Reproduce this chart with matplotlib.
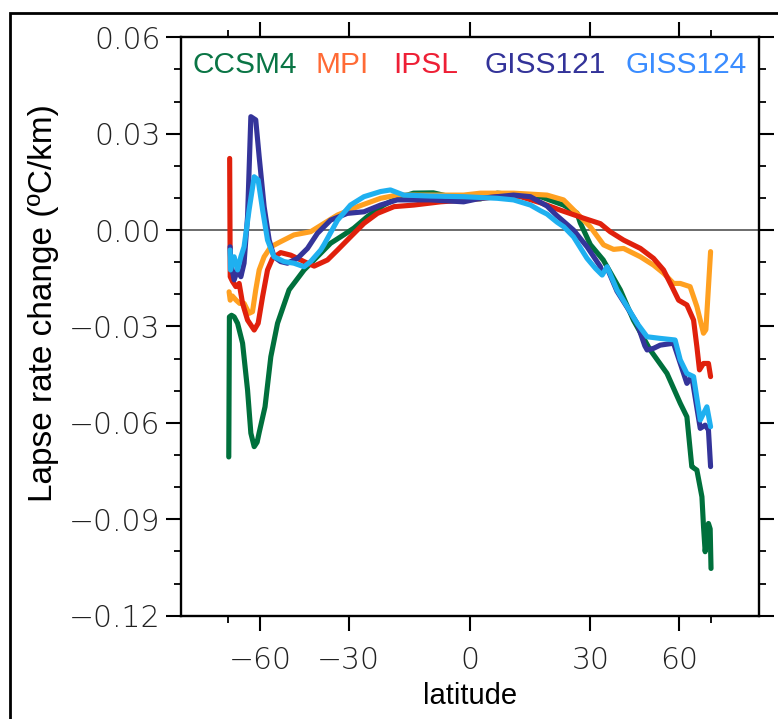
import numpy as np
import matplotlib
matplotlib.use("Agg")
import matplotlib.pyplot as plt
from matplotlib.patches import Rectangle

# modelos y colores
modelos = ["CCSM4", "MPI", "IPSL", "GISS121", "GISS124"]
colores_linea = ["#00703c", "#ffa020", "#e0200c", "#34349a", "#1fb0f0"]
colores_texto = ["#0a7545", "#ff6a35", "#ee1f35", "#333399", "#3a8cff"]

# latitud (grados) y cambio del gradiente (C/km)
lat_ccsm4 = [-85, -83.5, -80, -76.9, -73.7, -69.9, -66.7, -64.8, -63.0, -61.5, -60.5, -57.8,
             -55.3, -52.6, -48.3, -43.2, -38.0, -35.1, -31.4, -28.6, -25.0, -20.8, -17.4,
             -13.4, -8.6, -5.3, 2.6, 6.6, 10.5, 17.1, 22.9, 26.4, 27.3, 30, 33.6, 38.6, 42.7,
             48.4, 54.8, 60.7, 64.1, 66.9, 68, 70.2, 74.1, 75.5, 77.2, 81.4, 84.8, 88]
lr_ccsm4 = [-0.0706, -0.027, -0.0265, -0.027, -0.029, -0.0352, -0.0498, -0.0632, -0.0674,
            -0.066, -0.063, -0.055, -0.0394, -0.029, -0.0186, -0.0124, -0.0072, -0.0041,
            -0.0015, 0.0006, 0.0042, 0.0078, 0.0099, 0.0115, 0.0116, 0.0106, 0.0097, 0.0115,
            0.011, 0.0104, 0.0078, 0.0053, 0.0022, -0.0045, -0.0093, -0.0186, -0.028, -0.0373,
            -0.0446, -0.0539, -0.0581, -0.0736, -0.074, -0.0747, -0.083, -0.092, -0.1001,
            -0.0913, -0.093, -0.1053]

lat_mpi = [-84.2, -82, -79, -75, -72, -68.9, -65.8, -63.9, -62.2, -60.5, -58.2, -55.3, -51.4,
           -46.6, -41.1, -37.0, -33.1, -27.6, -21.6, -17.4, -9.3, -1.4, 2.6, 10.5, 18.7, 22.9,
           25.5, 30, 33.7, 36.6, 39.6, 45, 49.6, 53.4, 57.6, 60.7, 65.9, 70.2, 75.5, 78, 86]
lr_mpi = [-0.0192, -0.0218, -0.0205, -0.0218, -0.0228, -0.0228, -0.0259, -0.0254, -0.0186,
          -0.0124, -0.0083, -0.0052, -0.0036, -0.0015, -0.0005, 0.0021, 0.0047, 0.0073, 0.0099,
          0.0109, 0.0109, 0.0109, 0.0115, 0.0115, 0.0109, 0.0094, 0.0063, 0.001, -0.0046,
          -0.006, -0.0057, -0.0083, -0.0109, -0.0134, -0.0166, -0.0166, -0.0176, -0.0238,
          -0.0321, -0.031, -0.0067]

lat_ipsl = [-83.0, -82.0, -78.7, -75.2, -72.4, -69.9, -66.7, -63.0, -61.0, -58.9, -56.7, -54.6,
            -51.4, -47.7, -43.2, -40.0, -36.0, -33.1, -29.5, -25.9, -22.4, -18.2, -13.3, -6.9,
            -0.5, 6.6, 12.2, 17.1, 22.1, 25.5, 28.2, 32.8, 35.6, 39.6, 45, 49.6, 53.4, 56.9,
            59.9, 64.1, 68, 70.2, 72.1, 75.5, 81.4, 86]
lr_ipsl = [0.0223, -0.0145, -0.016, -0.0176, -0.0166, -0.0228, -0.028, -0.0311, -0.029,
           -0.0207, -0.0124, -0.0088, -0.007, -0.0078, -0.0098, -0.0112, -0.0093, -0.0062,
           -0.0021, 0.0021, 0.0052, 0.0073, 0.0078, 0.0088, 0.0094, 0.0104, 0.0104, 0.0085,
           0.0062, 0.0048, 0.0037, 0.002, -0.0005, -0.0031, -0.0057, -0.0088, -0.0124, -0.0176,
           -0.0218, -0.0233, -0.028, -0.0363, -0.0435, -0.0415, -0.0415, -0.0456]

lat_giss121 = [-82.2, -81, -76.9, -73.7, -71.1, -68.9, -66.7, -64.8, -62.2, -60.5, -58.2, -56.0,
               -54.0, -51.4, -48.9, -45.4, -42.1, -39.0, -35.1, -30.4, -25.9, -21.6, -17.4,
               -9.3, -1.4, 2.6, 10.5, 14.6, 18.7, 21.2, 25.5, 29.1, 32.8, 33.3, 34.7, 37.6,
               40.7, 43.9, 46.5, 47.3, 49.6, 52.1, 57.6, 64.1, 66.9, 72.7, 77.2, 81.4, 86]
lr_giss121 = [-0.0052, -0.0103, -0.0155, -0.0124, -0.0145, -0.0103, 0.0042, 0.0353, 0.0343,
              0.0228, 0.0073, -0.0031, -0.0083, -0.0098, -0.0103, -0.0088, -0.0057, -0.001,
              0.0031, 0.0052, 0.0057, 0.0078, 0.0094, 0.0094, 0.0088, 0.0099, 0.0109, 0.0104,
              0.0075, 0.0045, 0.0, -0.0052, -0.0114, -0.0135, -0.0118, -0.019, -0.024, -0.029,
              -0.036, -0.0373, -0.0368, -0.0358, -0.0352, -0.0477, -0.0456, -0.0617, -0.0607,
              -0.0622, -0.0736]

lat_giss124 = [-82.2, -81.5, -76.9, -73.7, -71.1, -68.9, -65.8, -63.0, -61.0, -58.9, -56.7,
               -54.0, -50.1, -46.6, -43.2, -41.1, -38.0, -37.0, -33.1, -29.5, -25.9, -21.6,
               -19.1, -15.8, -9.3, -1.4, 6.6, 10.5, 14.6, 17.1, 18.7, 21.2, 23, 25.5, 29.1,
               31.4, 33.3, 34.7, 37.6, 40.7, 43.9, 47.3, 52.1, 58.3, 60.7, 64.1, 68, 72.7,
               79.2, 86]
lr_giss124 = [-0.0062, -0.0124, -0.0083, -0.0124, -0.0083, -0.0052, 0.0063, 0.0166, 0.0156,
              0.0063, -0.0031, -0.0083, -0.0098, -0.0103, -0.0114, -0.0098, -0.0062, -0.0045,
              0.0031, 0.0078, 0.0104, 0.012, 0.0125, 0.0109, 0.0106, 0.0104, 0.0099, 0.0094,
              0.0078, 0.006, 0.005, 0.0025, 0.001, -0.0021, -0.0088, -0.0119, -0.014, -0.0114,
              -0.0186, -0.0238, -0.029, -0.0332, -0.0337, -0.0342, -0.0404, -0.0446, -0.0456,
              -0.0591, -0.055, -0.0612]

latitudes = [lat_ccsm4, lat_mpi, lat_ipsl, lat_giss121, lat_giss124]
valores = [lr_ccsm4, lr_mpi, lr_ipsl, lr_giss121, lr_giss124]

ticks_lat = [-60, -30, 0, 30, 60]
ticks_y = [-0.12, -0.09, -0.06, -0.03, 0.00, 0.03, 0.06]

fig = plt.figure(figsize=(7.78, 7.19), dpi=100)
ax = fig.add_axes([0.2323, 0.1437, 0.7433, 0.8044])

# eje x en seno de la latitud
for lat, val, col in zip(latitudes, valores, colores_linea):
    x = np.sin(np.radians(lat))
    ax.plot(x, val, color=col, lw=3.7, solid_joinstyle="round", solid_capstyle="round")

ax.axhline(0, color="#444444", lw=1.1, zorder=1)

ax.set_xlim(-1.195, 1.198)
ax.set_ylim(-0.12, 0.06)

ax.set_xticks(np.sin(np.radians(ticks_lat)))
ax.set_xticklabels([str(t).replace("-", "\u2212") for t in ticks_lat])
ax.set_xticks(np.sin(np.radians([-90, 90])), minor=True)
ax.set_yticks(ticks_y)
ax.set_yticklabels([f"{t:.2f}".replace("-", "\u2212") for t in ticks_y])
ax.set_yticks(np.arange(-0.12, 0.0601, 0.01), minor=True)

for s in ax.spines.values():
    s.set_linewidth(1.7)
ax.tick_params(which="major", direction="out", length=10.5, width=1.5,
               top=True, right=True, labelsize=21.5)
ax.tick_params(which="minor", direction="out", length=5, width=1.3, top=True, right=True)
ax.tick_params(axis="x", which="major", pad=11)
ax.tick_params(axis="y", which="major", pad=4)
for lab in ax.get_xticklabels() + ax.get_yticklabels():
    lab.set_color("#222222")
    lab.set_fontweight("light")

ax.set_xlabel("latitude", family="Liberation Sans", fontsize=21)
ax.set_ylabel("Lapse rate change (\u00baC/km)", family="Liberation Sans", fontsize=24)
ax.xaxis.set_label_coords(0.5, -0.115)
ax.yaxis.set_label_coords(-0.21, 0.54)

# nombres de modelos como leyenda
pos_x = [0.0195, 0.2322, 0.3671, 0.5245, 0.7683]
for nombre, col, px in zip(modelos, colores_texto, pos_x):
    ax.text(px, 0.9383, nombre, transform=ax.transAxes, color=col,
            family="Liberation Sans", fontsize=21.5, va="baseline", ha="left")

# marco de la figura
fig.add_artist(Rectangle((0.0129, -0.2), 1.5, 1.1819, transform=fig.transFigure,
                         fill=False, lw=2, ec="black", clip_on=False))

fig.savefig("out.png", dpi=100)
